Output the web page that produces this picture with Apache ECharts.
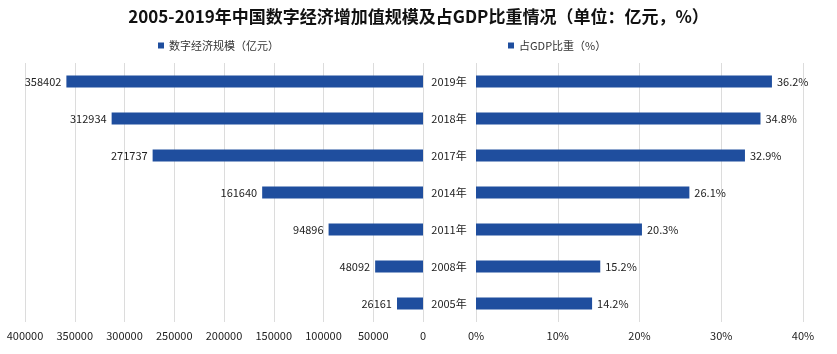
<!DOCTYPE html>
<html>
<head>
<meta charset="utf-8">
<script src="https://cdn.jsdelivr.net/npm/echarts@6/dist/echarts.min.js"></script>
<style>
  html, body { margin: 0; padding: 0; background: #fff; }
  #chart { width: 837px; height: 354px; }
</style>
</head>
<body>
<div id="chart"></div>
<script>
var years = ['2005年', '2008年', '2011年', '2014年', '2017年', '2018年', '2019年'];
var scale = [26161, 48092, 94896, 161640, 271737, 312934, 358402];
var share = [14.2, 15.2, 20.3, 26.1, 32.9, 34.8, 36.2];

var barColor = '#1f4e9e';
var font = '"Noto Sans CJK SC", "Noto Sans", sans-serif';

var chart = echarts.init(document.getElementById('chart'));
chart.setOption({
    textStyle: { fontFamily: font },
    title: {
        text: '2005-2019年中国数字经济增加值规模及占GDP比重情况（单位：亿元，%）',
        left: 'center',
        top: 3,
        textStyle: { fontSize: 17, fontWeight: 'bold', color: '#111', fontFamily: font }
    },
    legend: [{
        data: ['数字经济规模（亿元）'],
        left: 153,
        top: 35,
        icon: 'rect',
        itemWidth: 6,
        itemHeight: 6,
        itemGap: 3,
        textStyle: { fontSize: 11, color: '#333' }
    }, {
        data: ['占GDP比重（%）'],
        left: 503,
        top: 35,
        icon: 'rect',
        itemWidth: 6,
        itemHeight: 6,
        itemGap: 3,
        textStyle: { fontSize: 11, color: '#333' }
    }],
    grid: [
        { left: 25, width: 398, top: 63, height: 259 },
        { left: 476, width: 327, top: 63, height: 259 }
    ],
    xAxis: [{
        gridIndex: 0,
        type: 'value',
        inverse: true,
        min: 0,
        max: 400000,
        interval: 50000,
        axisLine: { show: false },
        axisTick: { show: false },
        axisLabel: { fontSize: 11, color: '#222', margin: 8, formatter: function (v) { return String(v); } },
        splitLine: { lineStyle: { color: '#dcdcdc' } }
    }, {
        gridIndex: 1,
        type: 'value',
        min: 0,
        max: 40,
        interval: 10,
        axisLine: { show: false },
        axisTick: { show: false },
        axisLabel: { fontSize: 11, color: '#222', margin: 8, formatter: '{value}%' },
        splitLine: { lineStyle: { color: '#dcdcdc' } }
    }],
    yAxis: [{
        gridIndex: 0,
        type: 'category',
        data: years,
        axisLine: { show: false },
        axisTick: { show: false },
        axisLabel: { show: false }
    }, {
        gridIndex: 1,
        type: 'category',
        data: years,
        axisLine: { show: false },
        axisTick: { show: false },
        axisLabel: { fontSize: 11, color: '#222', align: 'center', margin: 27 }
    }],
    series: [{
        name: '数字经济规模（亿元）',
        type: 'bar',
        xAxisIndex: 0,
        yAxisIndex: 0,
        data: scale,
        barWidth: 12,
        itemStyle: { color: barColor },
        label: { show: true, position: 'left', fontSize: 11, color: '#222', distance: 5 }
    }, {
        name: '占GDP比重（%）',
        type: 'bar',
        xAxisIndex: 1,
        yAxisIndex: 1,
        data: share,
        barWidth: 12,
        itemStyle: { color: barColor },
        label: { show: true, position: 'right', fontSize: 11, color: '#222', distance: 5,
            formatter: function (p) { return p.value.toFixed(1) + '%'; } }
    }]
});
</script>
</body>
</html>
